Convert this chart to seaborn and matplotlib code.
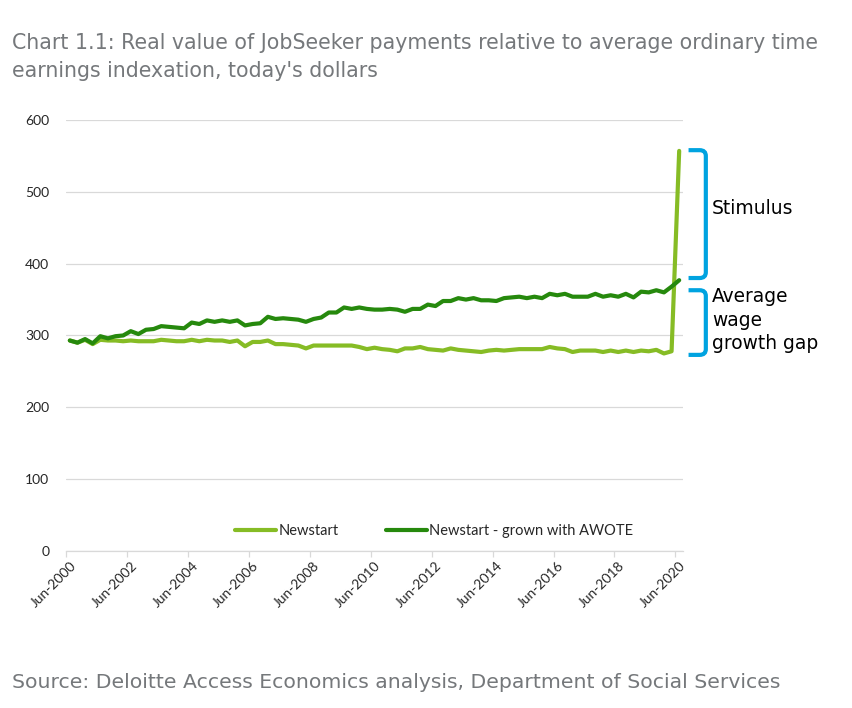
import matplotlib
matplotlib.use("Agg")
import matplotlib.pyplot as plt
import matplotlib.transforms as mtransforms
from matplotlib.path import Path
from matplotlib.patches import PathPatch
import numpy as np
import pandas as pd
import seaborn as sns

# quarterly, Jun-2000 .. Jun-2020 (81 points)
quarters = pd.period_range("2000Q2", "2020Q2", freq="Q")
tick_years = list(range(2000, 2021, 2))
tick_labels = ["Jun-%d" % y for y in tick_years]

newstart = [293, 290, 294, 288, 294, 293, 293, 292, 293, 292,
            292, 292, 294, 293, 292, 292, 294, 292, 294, 293,
            293, 291, 293, 285, 291, 291, 293, 288, 288, 287,
            286, 282, 286, 286, 286, 286, 286, 286, 284, 281,
            283, 281, 280, 278, 282, 282, 284, 281, 280, 279,
            282, 280, 279, 278, 277, 279, 280, 279, 280, 281,
            281, 281, 281, 284, 282, 281, 277, 279, 279, 279,
            277, 279, 277, 279, 277, 279, 278, 280, 275, 278,
            557]

newstart_awote = [293, 290, 295, 289, 299, 296, 299, 300, 306, 302,
                  308, 309, 313, 312, 311, 310, 318, 316, 321, 319,
                  321, 319, 321, 314, 316, 317, 326, 323, 324, 323,
                  322, 319, 323, 325, 332, 332, 339, 337, 339, 337,
                  336, 336, 337, 336, 333, 337, 337, 343, 341, 348,
                  348, 352, 350, 352, 349, 349, 348, 352, 353, 354,
                  352, 354, 352, 358, 356, 358, 354, 354, 354, 358,
                  354, 356, 354, 358, 353, 361, 360, 363, 360, 368,
                  377]

series_names = ["Newstart", "Newstart - grown with AWOTE"]
colors = ["#86BC25", "#26890D"]

idx = np.arange(len(quarters))
df = pd.DataFrame({
    "q": np.concatenate([idx, idx]),
    "value": newstart + newstart_awote,
    "series": [series_names[0]] * len(idx) + [series_names[1]] * len(idx),
})

sns.set_theme(style="white")
plt.rcParams["font.family"] = ["DejaVu Sans"]

fig = plt.figure(figsize=(8.53, 7.08), dpi=100)
ax = fig.add_axes([0.0774, 0.2218, 0.7233, 0.6087])

sns.lineplot(data=df, x="q", y="value", hue="series", hue_order=series_names,
             palette=colors, linewidth=3, ax=ax, legend=True)

ax.set_xlim(-0.5, len(idx) - 0.5)
ax.set_ylim(0, 600)
ax.set_yticks(range(0, 601, 100))
ax.yaxis.grid(True, color="#D9D9D9", linewidth=0.9)
ax.xaxis.grid(False)
for s in ["top", "right", "left"]:
    ax.spines[s].set_visible(False)
ax.spines["bottom"].set_color("#D9D9D9")
ax.spines["bottom"].set_linewidth(0.9)
ax.set_xlabel("")
ax.set_ylabel("")

tick_pos = [(y - 2000) * 4 for y in tick_years]
ax.set_xticks(tick_pos)
ax.set_xticklabels(tick_labels, rotation=45, ha="right", rotation_mode="anchor",
                   family="Lato", fontsize=10)
ax.set_xticks(np.arange(-0.5, len(idx) - 1, 8), minor=True)
ax.tick_params(axis="x", which="major", length=0, pad=6)
ax.tick_params(axis="x", which="minor", bottom=True, length=4, color="#D9D9D9", width=0.9)
ax.tick_params(axis="y", length=0, pad=12)
for lab in ax.get_yticklabels():
    lab.set_family("Lato")
    lab.set_fontsize(10)

handles, labels = ax.get_legend_handles_labels()
ax.legend(handles, labels, loc="center", bbox_to_anchor=(0.597, 0.046), ncol=2,
          frameon=False, handlelength=2.8, handletextpad=0.15, columnspacing=3.3,
          prop={"family": "Lato", "size": 10.5})

# brackets on the right
blue = "#00A3E0"
trans = mtransforms.blended_transform_factory(ax.transAxes, ax.transData)

def bracket(top, bottom):
    x0, x1 = 1.009, 1.037
    rx, ry = 0.010, 8
    verts = [(x0, top), (x1 - rx, top), (x1, top), (x1, top - ry),
             (x1, bottom + ry), (x1, bottom), (x1 - rx, bottom), (x0, bottom)]
    codes = [Path.MOVETO, Path.LINETO, Path.CURVE3, Path.CURVE3,
             Path.LINETO, Path.CURVE3, Path.CURVE3, Path.LINETO]
    patch = PathPatch(Path(verts, codes), facecolor="none", edgecolor=blue,
                      linewidth=3, transform=trans, clip_on=False, capstyle="butt")
    ax.add_patch(patch)

bracket(newstart[-1] + 1, newstart_awote[-1] + 3)
bracket(newstart_awote[-1] - 14, newstart[-2] - 5)

ax.text(1.047, (newstart[-1] + newstart_awote[-1]) / 2 + 10, "Stimulus",
        transform=trans, fontsize=13.5, va="center", ha="left", color="black")
ax.text(1.047, (newstart_awote[-1] + newstart[-2]) / 2 - 6, "Average\nwage\ngrowth gap",
        transform=trans, fontsize=13.4, va="center", ha="left", color="black",
        linespacing=1.3)

grey = "#75787B"
fig.text(12 / 853, 1 - 57 / 708,
         "Chart 1.1: Real value of JobSeeker payments relative to average ordinary time\n"
         "earnings indexation, today's dollars",
         fontsize=14.8, color=grey, va="center", ha="left", linespacing=1.5)
fig.text(12 / 853, 1 - 682 / 708,
         "Source: Deloitte Access Economics analysis, Department of Social Services",
         fontsize=14.7, color=grey, va="center", ha="left")

fig.savefig("out.png", dpi=100)
